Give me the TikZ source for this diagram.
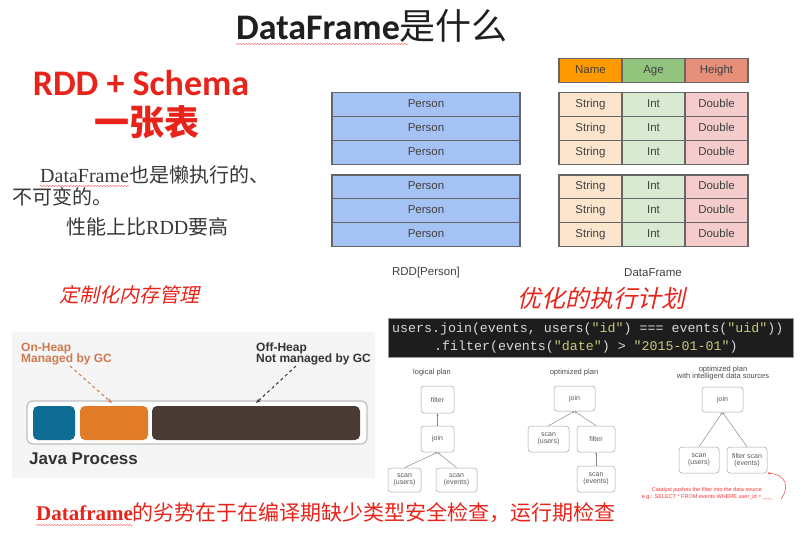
\documentclass[tikz,border=0pt]{standalone}
\usepackage{fontspec}
\setmainfont{Liberation Serif}
\newfontfamily\cjk{Noto Sans CJK SC}
\newfontfamily\cjksl[FakeSlant=0.22]{Noto Sans CJK SC}
\newfontfamily\carl{Carlito}
\newfontfamily\arial{Liberation Sans}
\newfontfamily\mono{Liberation Mono}
\usetikzlibrary{arrows.meta,decorations.pathmorphing}
\newcommand\fsz[1]{\fontsize{#1}{#1}\selectfont}
\definecolor{slidered}{HTML}{E8231A}
\definecolor{personblue}{HTML}{A4C2F4}
\definecolor{hname}{HTML}{FF9900}
\definecolor{hage}{HTML}{93C47D}
\definecolor{hheight}{HTML}{E6907A}
\definecolor{cstr}{HTML}{FCE5CD}
\definecolor{cint}{HTML}{D9EAD3}
\definecolor{cdbl}{HTML}{F4CCCC}
\definecolor{memblue}{HTML}{0E6C95}
\definecolor{memorange}{HTML}{E07B27}
\definecolor{membrown}{HTML}{4A3B35}
\definecolor{onheap}{HTML}{CF7A4E}
\definecolor{codebg}{HTML}{1D1D1D}
\definecolor{codefg}{HTML}{D8D8D8}
\definecolor{codestr}{HTML}{C9C77A}
\tikzset{
  cell/.style={draw=black!60, line width=1.1pt, minimum height=23.8pt, inner sep=0pt,
    text height=8.3pt, text depth=2.4pt,
    font=\arial\fsz{11.5}, text=black!75},
  prow/.style={cell, fill=personblue, minimum width=188pt},
  dcell/.style={cell, minimum width=63pt},
  planbox/.style={draw=black!35, line width=0.5pt, rounded corners=3pt, fill=white,
    inner sep=0pt, font=\arial\fsz{7}, text=black!65, align=center},
  planarrow/.style={draw=black!45, line width=0.5pt, -{Stealth[length=2.5pt,width=2pt]}},
  plancap/.style={font=\arial\fsz{7.5}, text=black!70, align=center},
  memblock/.style={rounded corners=5pt, minimum height=34pt, inner sep=0pt},
  spell/.style={draw=red!55, line width=0.5pt, decorate,
    decoration={snake, amplitude=0.6pt, segment length=3pt}},
}
\begin{document}
\begin{tikzpicture}[x=1pt,y=-1pt]
\useasboundingbox[fill=white] (0,0) rectangle (806,538);

% title
\node[text=black!88] (title) at (372,26) {\fsz{36}\carl\bfseries DataFrame\cjk\mdseries 是什么};
\draw[spell] (236,44) -- (408,44);

% left upper texts
\node[text=slidered] (rdd) at (141,83) {\fsz{36}\carl\bfseries RDD + Schema};
\node[text=slidered] (table) at (147,122) {\fsz{35}\cjk\bfseries 一张表};
\node[anchor=west, text=black!78, inner sep=0pt] (b1) at (40,175) {\fsz{20}DataFrame\cjk 也是懒执行的、};
\draw[spell] (40,186) -- (129,186);
\node[anchor=west, text=black!78, inner sep=0pt] (b2) at (12,197) {\fsz{20}\cjk 不可变的。};
\node[anchor=west, text=black!78, inner sep=0pt] (b3) at (66,227) {\fsz{20}\cjk 性能上比\rmfamily RDD\cjk 要高};

% RDD[Person]
\foreach \i/\y in {1/104.6,2/128.4,3/152.2,4/186.9,5/210.7,6/234.5}{
  \node[prow] (p\i) at (426,\y) {Person};
}
\node[font=\arial\fsz{11.5}, text=black!75] (rddlab) at (426,273) {RDD[Person]};

% DataFrame
\node[dcell, fill=hname] (hn) at (590.5,70.7) {Name};
\node[dcell, fill=hage] (ha) at (653.5,70.7) {Age};
\node[dcell, fill=hheight] (hh) at (716.5,70.7) {Height};
\foreach \i/\y in {1/104.6,2/128.4,3/152.2,4/186.9,5/210.7,6/234.5}{
  \node[dcell, fill=cstr] (s\i) at (590.5,\y) {String};
  \node[dcell, fill=cint] (n\i) at (653.5,\y) {Int};
  \node[dcell, fill=cdbl] (d\i) at (716.5,\y) {Double};
}
\node[font=\arial\fsz{11.5}, text=black!75] (dflab) at (653,273) {DataFrame};

% memory management
\node[text=slidered] (memtitle) at (129,295) {\fsz{20}\cjksl 定制化内存管理};
\node[fill=black!4, minimum width=363pt, minimum height=146pt, inner sep=0pt] (panel) at (193.5,405) {};
\node[draw=black!25, line width=1.2pt, fill=white, rounded corners=6pt,
  minimum width=340pt, minimum height=43pt, inner sep=0pt] (proc) at (197,422.5) {};
\node[memblock, fill=memblue, minimum width=42pt] (mb) at (54,423) {};
\node[memblock, fill=memorange, minimum width=68pt] (mo) at (114,423) {};
\node[memblock, fill=membrown, minimum width=208pt] (mk) at (256,423) {};
\node[anchor=west, inner sep=0pt, text=black!80, font=\arial\bfseries\fsz{17}] (jp) at (29,459) {Java Process};
\node[anchor=west, inner sep=0pt, text=onheap, font=\arial\bfseries\fsz{12}, align=left] (on) at (21,354)
  {On-Heap\\[-1pt]Managed by GC};
\node[anchor=west, inner sep=0pt, text=black!80, font=\arial\bfseries\fsz{12}, align=left] (off) at (256,354)
  {Off-Heap\\[-1pt]Not managed by GC};
\coordinate (onS) at (70,366);
\coordinate (onA) at (112,403);
\coordinate (offS) at (296,366);
\coordinate (offA) at (256,403);
\draw[onheap, line width=1pt, dashed, -{Stealth[length=5pt]}] (onS) -- (onA);
\draw[black!80, line width=1pt, dashed, -{Stealth[length=5pt]}] (offS) -- (offA);

% optimized plan
\node[text=slidered] (plantitle) at (601,298) {\fsz{24}\cjksl 优化的执行计划};
\node[fill=codebg, draw=black!40, line width=0.6pt, minimum width=405pt, minimum height=39pt, inner sep=0pt] (code) at (590.5,337.5) {};
\node[anchor=west, inner sep=0pt, text=codefg, font=\mono\fsz{13.3}] (c1) at (392,329)
  {users.join(events, users(\textcolor{codestr}{"id"}) === events(\textcolor{codestr}{"uid"}))};
\node[anchor=west, inner sep=0pt, text=codefg, font=\mono\fsz{13.3}] (c2) at (434,347)
  {.filter(events(\textcolor{codestr}{"date"}) > \textcolor{codestr}{"2015-01-01"})};

% logical plan
\node[plancap] (lcap) at (432,373) {logical plan};
\node[planbox, minimum width=33pt, minimum height=27pt] (lf) at (437.5,399.5) {filter};
\node[planbox, minimum width=33pt, minimum height=26pt] (lj) at (437.5,439) {join};
\node[planbox, minimum width=33pt, minimum height=24pt] (lu) at (404.5,480) {scan\\(users)};
\node[planbox, minimum width=41pt, minimum height=24pt] (le) at (456.5,480) {scan\\(events)};
\draw[planarrow] (lj) -- (lf);
\draw[planarrow] (lu.north) -- (lj.south);
\draw[planarrow] (le.north) -- (lj.south);

% optimized plan
\node[plancap] (ocap) at (574,373) {optimized plan};
\node[planbox, minimum width=41pt, minimum height=25pt] (oj) at (574.5,398.5) {join};
\node[planbox, minimum width=41pt, minimum height=26pt] (ou) at (548.5,439) {scan\\(users)};
\node[planbox, minimum width=38pt, minimum height=26pt] (of) at (596,439) {filter};
\node[planbox, minimum width=38pt, minimum height=26pt] (oe) at (596,479) {scan\\(events)};
\draw[planarrow] (ou.north) -- (oj.south);
\draw[planarrow] (of.north) -- (oj.south);
\draw[planarrow] (oe) -- (of);

% optimized plan with intelligent data sources
\node[plancap] (icap) at (723,373) {optimized plan\\[-1pt]with intelligent data sources};
\node[planbox, minimum width=41pt, minimum height=25pt] (ij) at (722.5,399.5) {join};
\node[planbox, minimum width=40pt, minimum height=26pt] (iu) at (699,460) {scan\\(users)};
\node[planbox, minimum width=40pt, minimum height=26pt] (ifs) at (747,460) {filter scan\\(events)};
\draw[planarrow] (iu.north) -- (ij.south);
\draw[planarrow] (ifs.north) -- (ij.south);
\node[text=red!80, font=\arial\fsz{5.5}, align=center, inner sep=0pt] (cat) at (707,494)
  {Catalyst pushes the filter into the data source\\[1.5pt]e.g.: SELECT * FROM events WHERE user\_id = \_\_\_};
\coordinate (catS) at (781,499);
\draw[red!75, line width=0.5pt, -{Stealth[length=3pt,width=2.5pt]}] (catS) .. controls (790,487) and (786,474) .. (ifs.south east);

% bottom
\node[anchor=west, inner sep=0pt, text=slidered] (bottom) at (36,513)
  {\fsz{21}\bfseries Dataframe\cjk\mdseries 的劣势在于在编译期缺少类型安全检查，运行期检查};
\draw[spell] (36,525) -- (133,525);
\end{tikzpicture}
\end{document}
